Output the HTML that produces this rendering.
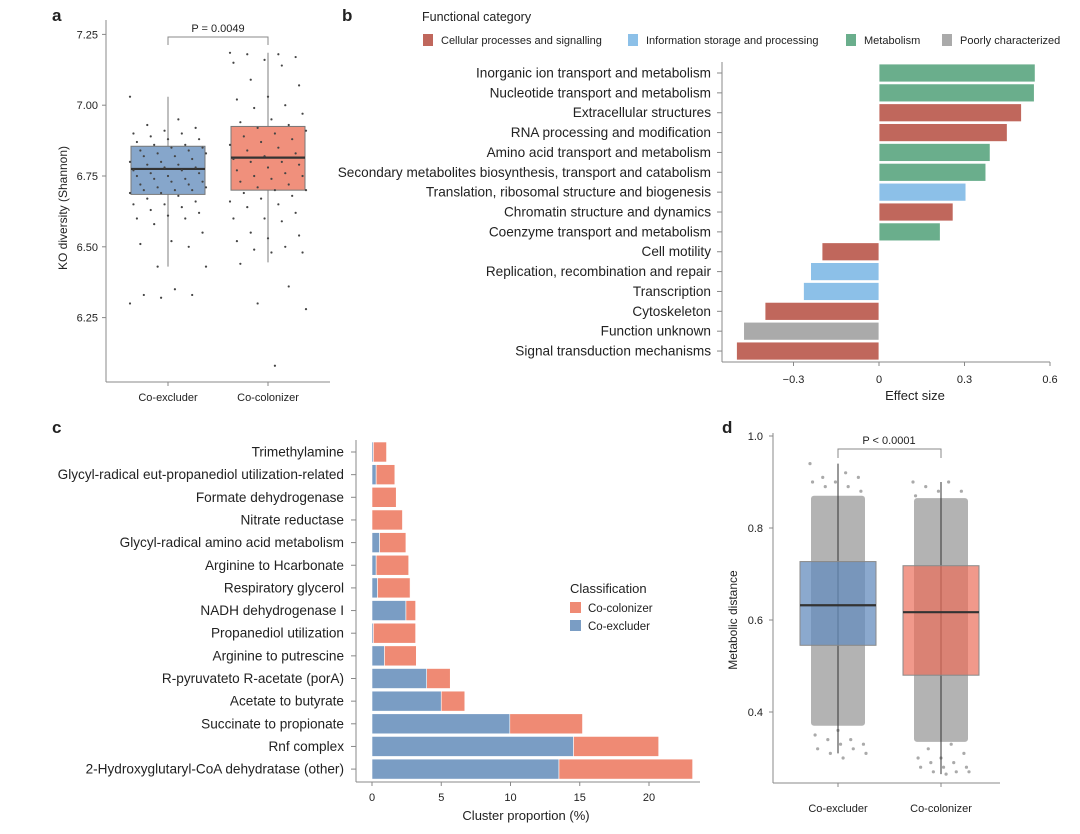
<!DOCTYPE html>
<html><head><meta charset="utf-8">
<style>
body{margin:0;background:#fff;width:1080px;height:829px;overflow:hidden;font-family:"Liberation Sans",sans-serif;}
svg text{font-family:"Liberation Sans",sans-serif;fill:#222;}
</style></head>
<body>
<svg id="fig" width="1080" height="829" viewBox="0 0 1080 829" xmlns="http://www.w3.org/2000/svg">
<text x="52" y="21" font-size="17" font-weight="bold">a</text>
<text x="342" y="21" font-size="17" font-weight="bold">b</text>
<text x="52" y="433" font-size="17" font-weight="bold">c</text>
<text x="722" y="433" font-size="17" font-weight="bold">d</text>
<g id="pa"></g>
<g id="pb"></g>
<g id="pc"></g>
<g id="pd"></g>
</svg>
<script>
// ---- Panel a data ----
const aGroups = ["Co-excluder","Co-colonizer"];
const aTicks = [6.25,6.50,6.75,7.00,7.25];
const aQ1 = [6.685,6.700];
const aMed = [6.775,6.815];
const aQ3 = [6.855,6.925];
const aWlo = [6.43,6.445];
const aWhi = [7.03,7.185];
const aPts0 = [7.03,6.95,6.93,6.92,6.91,6.90,6.90,6.89,6.88,6.88,6.87,6.86,6.86,6.85,6.85,6.84,6.84,6.83,6.83,6.82,6.82,6.81,6.80,6.80,6.79,6.79,6.78,6.78,6.77,6.77,6.76,6.76,6.75,6.75,6.74,6.74,6.73,6.73,6.72,6.72,6.71,6.71,6.70,6.70,6.70,6.69,6.69,6.68,6.67,6.66,6.65,6.65,6.64,6.63,6.62,6.61,6.60,6.60,6.58,6.55,6.52,6.51,6.50,6.43,6.43,6.35,6.33,6.33,6.32,6.30];
const aPts1 = [7.185,7.18,7.18,7.17,7.16,7.15,7.14,7.09,7.07,7.03,7.02,7.00,6.99,6.97,6.95,6.94,6.93,6.92,6.91,6.90,6.89,6.88,6.87,6.86,6.85,6.84,6.83,6.82,6.81,6.80,6.80,6.79,6.78,6.77,6.76,6.75,6.75,6.74,6.73,6.72,6.71,6.70,6.70,6.69,6.68,6.67,6.66,6.65,6.64,6.62,6.60,6.60,6.59,6.55,6.54,6.53,6.52,6.50,6.49,6.48,6.48,6.44,6.36,6.30,6.28,6.08];
const aP = "P = 0.0049";
// ---- Panel b data ----
const bCats = ["Inorganic ion transport and metabolism","Nucleotide transport and metabolism","Extracellular structures","RNA processing and modification","Amino acid transport and metabolism","Secondary metabolites biosynthesis, transport and catabolism","Translation, ribosomal structure and biogenesis","Chromatin structure and dynamics","Coenzyme transport and metabolism","Cell motility","Replication, recombination and repair","Transcription","Cytoskeleton","Function unknown","Signal transduction mechanisms"];
const bVals = [0.548,0.545,0.50,0.45,0.39,0.375,0.305,0.26,0.215,-0.20,-0.24,-0.265,-0.40,-0.475,-0.50];
const bGroup = ["M","M","C","C","M","M","I","C","M","C","I","I","C","P","C"];
const bTicks = [-0.3,0,0.3,0.6];
const bLegend = ["Cellular processes and signalling","Information storage and processing","Metabolism","Poorly characterized"];
// ---- Panel c data ----
const cCats = ["Trimethylamine","Glycyl-radical eut-propanediol utilization-related","Formate dehydrogenase","Nitrate reductase","Glycyl-radical amino acid metabolism","Arginine to Hcarbonate","Respiratory glycerol","NADH dehydrogenase I","Propanediol utilization","Arginine to putrescine","R-pyruvateto R-acetate (porA)","Acetate to butyrate","Succinate to propionate","Rnf complex","2-Hydroxyglutaryl-CoA dehydratase (other)"];
const cExcl = [0.1,0.3,0,0,0.55,0.3,0.4,2.45,0.1,0.9,3.95,5.0,9.95,14.55,13.5];
const cColo = [0.95,1.35,1.75,2.2,1.9,2.35,2.35,0.7,3.05,2.3,1.7,1.7,5.25,6.15,9.65];
const cTicks = [0,5,10,15,20];
// ---- Panel d data ----
const dGroups = ["Co-excluder","Co-colonizer"];
const dTicks = [0.4,0.6,0.8,1.0];
const dQ1 = [0.545,0.48];
const dMed = [0.632,0.617];
const dQ3 = [0.727,0.718];
const dWlo = [0.31,0.265];
const dWhi = [0.94,0.90];
const dDenseLo = [0.37,0.335];
const dDenseHi = [0.87,0.865];
const dOut0 = [0.94,0.92,0.91,0.91,0.90,0.90,0.89,0.89,0.88,0.36,0.35,0.34,0.34,0.33,0.33,0.32,0.32,0.31,0.31,0.30];
const dOut1 = [0.90,0.90,0.89,0.88,0.88,0.87,0.33,0.32,0.31,0.30,0.30,0.29,0.29,0.28,0.28,0.28,0.27,0.27,0.27,0.265];
const dP = "P < 0.0001";

const NS="http://www.w3.org/2000/svg";
function mk(parent,tag,attrs,txt){const e=document.createElementNS(NS,tag);for(const k in attrs)e.setAttribute(k,attrs[k]);if(txt!==undefined)e.textContent=txt;parent.appendChild(e);return e;}
const jit=i=>(((i*37)%23)/22-0.5);

// ===== Panel a =====
(function(){
const g=document.getElementById('pa');
const ya=v=>176-(v-6.75)*283.2;
const xc=[168,268];
let ax=mk(g,'line',{x1:106,y1:20,x2:106,y2:382,stroke:'#888'});

let bx=mk(g,'line',{x1:106,y1:382,x2:330,y2:382,stroke:'#888'});

aTicks.forEach(t=>{mk(g,'line',{x1:102,x2:106,y1:ya(t),y2:ya(t),stroke:'#888'});
 const e=mk(g,'text',{x:98,y:ya(t)+4,'font-size':11,'text-anchor':'end'},t.toFixed(2));
 });
const yt=mk(g,'text',{x:0,y:0,'font-size':12,'text-anchor':'middle',transform:'translate(67,208) rotate(-90)'},'KO diversity (Shannon)');

const fills=['#86a6cb','#f0907c'];
aGroups.forEach((n,i)=>{
 const x=xc[i];
 mk(g,'line',{x1:x,x2:x,y1:ya(aWlo[i]),y2:ya(aWhi[i]),stroke:'#aaa','stroke-width':1.5});
 const b=mk(g,'rect',{x:x-37,y:ya(aQ3[i]),width:74,height:ya(aQ1[i])-ya(aQ3[i]),fill:fills[i],stroke:'#777'});
 
 mk(g,'line',{x1:x-37,x2:x+37,y1:ya(aMed[i]),y2:ya(aMed[i]),stroke:'#333','stroke-width':2.2});
 mk(g,'line',{x1:x,x2:x,y1:382,y2:386,stroke:'#888'});
 const l=mk(g,'text',{x:x,y:401,'font-size':11,'text-anchor':'middle'},n);
 
 (i?aPts1:aPts0).forEach((v,k)=>{const d=mk(g,'circle',{cx:x+jit(k)*76,cy:ya(v),r:1.1,fill:'#444'});
  });
});
mk(g,'path',{d:`M168 45 V37 H268 V45`,fill:'none',stroke:'#888'});
const p=mk(g,'text',{x:218,y:32,'font-size':11,'text-anchor':'middle'},aP);

})();

// ===== Panel b =====
(function(){
const g=document.getElementById('pb');
const col={C:'#c0675c',I:'#8cc0e8',M:'#6aae8c',P:'#aaaaaa'};
const xb=v=>879+v*285;
const yb=i=>73+i*19.86;
const t=mk(g,'text',{x:422,y:21,'font-size':12.5},'Functional category');

const lx=[423,628,846,942];const lc=['C','I','M','P'];
bLegend.forEach((n,i)=>{mk(g,'rect',{x:lx[i],y:34,width:10,height:12,fill:col[lc[i]]});
 const e=mk(g,'text',{x:lx[i]+18,y:44,'font-size':11},n);
 });
mk(g,'line',{x1:722,y1:62,x2:722,y2:362,stroke:'#888'});
mk(g,'line',{x1:722,y1:362,x2:1050,y2:362,stroke:'#888'});
bTicks.forEach(v=>{mk(g,'line',{x1:xb(v),x2:xb(v),y1:362,y2:366,stroke:'#888'});
 const e=mk(g,'text',{x:xb(v),y:383,'font-size':11,'text-anchor':'middle'},v===0?'0':v.toFixed(1).replace('-','−'));
 });
const xt=mk(g,'text',{x:915,y:400,'font-size':13,'text-anchor':'middle'},'Effect size');

bCats.forEach((n,i)=>{
 const y=yb(i),v=bVals[i];
 mk(g,'line',{x1:717,x2:722,y1:y,y2:y,stroke:'#888'});
 const e=mk(g,'text',{x:711,y:y+4.5,'font-size':13.6,'text-anchor':'end'},n);
 
 const r=mk(g,'rect',{x:Math.min(xb(0),xb(v)),y:y-9,width:Math.abs(xb(v)-xb(0)),height:18,fill:col[bGroup[i]],stroke:'#fff','stroke-width':0.8});
 
});
})();

// ===== Panel c =====
(function(){
const g=document.getElementById('pc');
const xc=v=>372+v*13.85;
const yc=i=>452+i*22.65;
mk(g,'line',{x1:356,y1:440,x2:356,y2:782,stroke:'#888'});
mk(g,'line',{x1:356,y1:782,x2:700,y2:782,stroke:'#888'});
cTicks.forEach(v=>{mk(g,'line',{x1:xc(v),x2:xc(v),y1:782,y2:786,stroke:'#888'});
 const e=mk(g,'text',{x:xc(v),y:801,'font-size':11,'text-anchor':'middle'},String(v));
 });
const xt=mk(g,'text',{x:526,y:820,'font-size':13,'text-anchor':'middle'},'Cluster proportion (%)');

cCats.forEach((n,i)=>{
 const y=yc(i);
 mk(g,'line',{x1:351,x2:356,y1:y,y2:y,stroke:'#888'});
 const e=mk(g,'text',{x:344,y:y+4.5,'font-size':13.6,'text-anchor':'end'},n);
 
 const a=mk(g,'rect',{x:xc(0),y:y-10,width:xc(cExcl[i])-xc(0),height:20,fill:'#7a9dc4',stroke:'#fff','stroke-width':0.6});
 
 const b=mk(g,'rect',{x:xc(cExcl[i]),y:y-10,width:xc(cColo[i])-xc(0),height:20,fill:'#ef8a74',stroke:'#fff','stroke-width':0.6});
 
});
const lt=mk(g,'text',{x:570,y:593,'font-size':13},'Classification');

[['Co-colonizer','#ef8a74'],['Co-excluder','#7a9dc4']].forEach((d,i)=>{
 mk(g,'rect',{x:570,y:602+i*18,width:11,height:11,fill:d[1]});
 const e=mk(g,'text',{x:588,y:612+i*18,'font-size':11.5},d[0]);
 });
})();

// ===== Panel d =====
(function(){
const g=document.getElementById('pd');
const yd=v=>436+(1-v)*460;
const xc=[838,941];
mk(g,'line',{x1:773,y1:433,x2:773,y2:783,stroke:'#888'});
mk(g,'line',{x1:773,y1:783,x2:1000,y2:783,stroke:'#888'});
dTicks.forEach(v=>{mk(g,'line',{x1:769,x2:773,y1:yd(v),y2:yd(v),stroke:'#888'});
 const e=mk(g,'text',{x:763,y:yd(v)+4,'font-size':11,'text-anchor':'end'},v.toFixed(1));
 });
const yt=mk(g,'text',{x:0,y:0,'font-size':12,'text-anchor':'middle',transform:'translate(737,620) rotate(-90)'},'Metabolic distance');

const fills=['rgba(100,140,190,0.75)','rgba(235,110,90,0.7)'];
dGroups.forEach((n,i)=>{
 const x=xc[i];
 const c=mk(g,'rect',{x:x-27,y:yd(dDenseHi[i]),width:54,height:yd(dDenseLo[i])-yd(dDenseHi[i]),fill:'#b3b3b3',rx:3});
 
 (i?dOut1:dOut0).forEach((v,k)=>{const d=mk(g,'circle',{cx:x+jit(k)*56,cy:yd(v),r:1.6,fill:'#aaa'});
  });
 mk(g,'line',{x1:x,x2:x,y1:yd(dWlo[i]),y2:yd(dWhi[i]),stroke:'#333'});
 const b=mk(g,'rect',{x:x-38,y:yd(dQ3[i]),width:76,height:yd(dQ1[i])-yd(dQ3[i]),fill:fills[i],stroke:'#888'});
 
 mk(g,'line',{x1:x-38,x2:x+38,y1:yd(dMed[i]),y2:yd(dMed[i]),stroke:'#333','stroke-width':2.2});
 mk(g,'line',{x1:x,x2:x,y1:783,y2:787,stroke:'#888'});
 const l=mk(g,'text',{x:x,y:812,'font-size':11,'text-anchor':'middle'},n);
 
});
mk(g,'path',{d:'M838 458 V449 H941 V458',fill:'none',stroke:'#888'});
const p=mk(g,'text',{x:889,y:444,'font-size':11,'text-anchor':'middle'},dP);

})();
</script>
</body></html>
